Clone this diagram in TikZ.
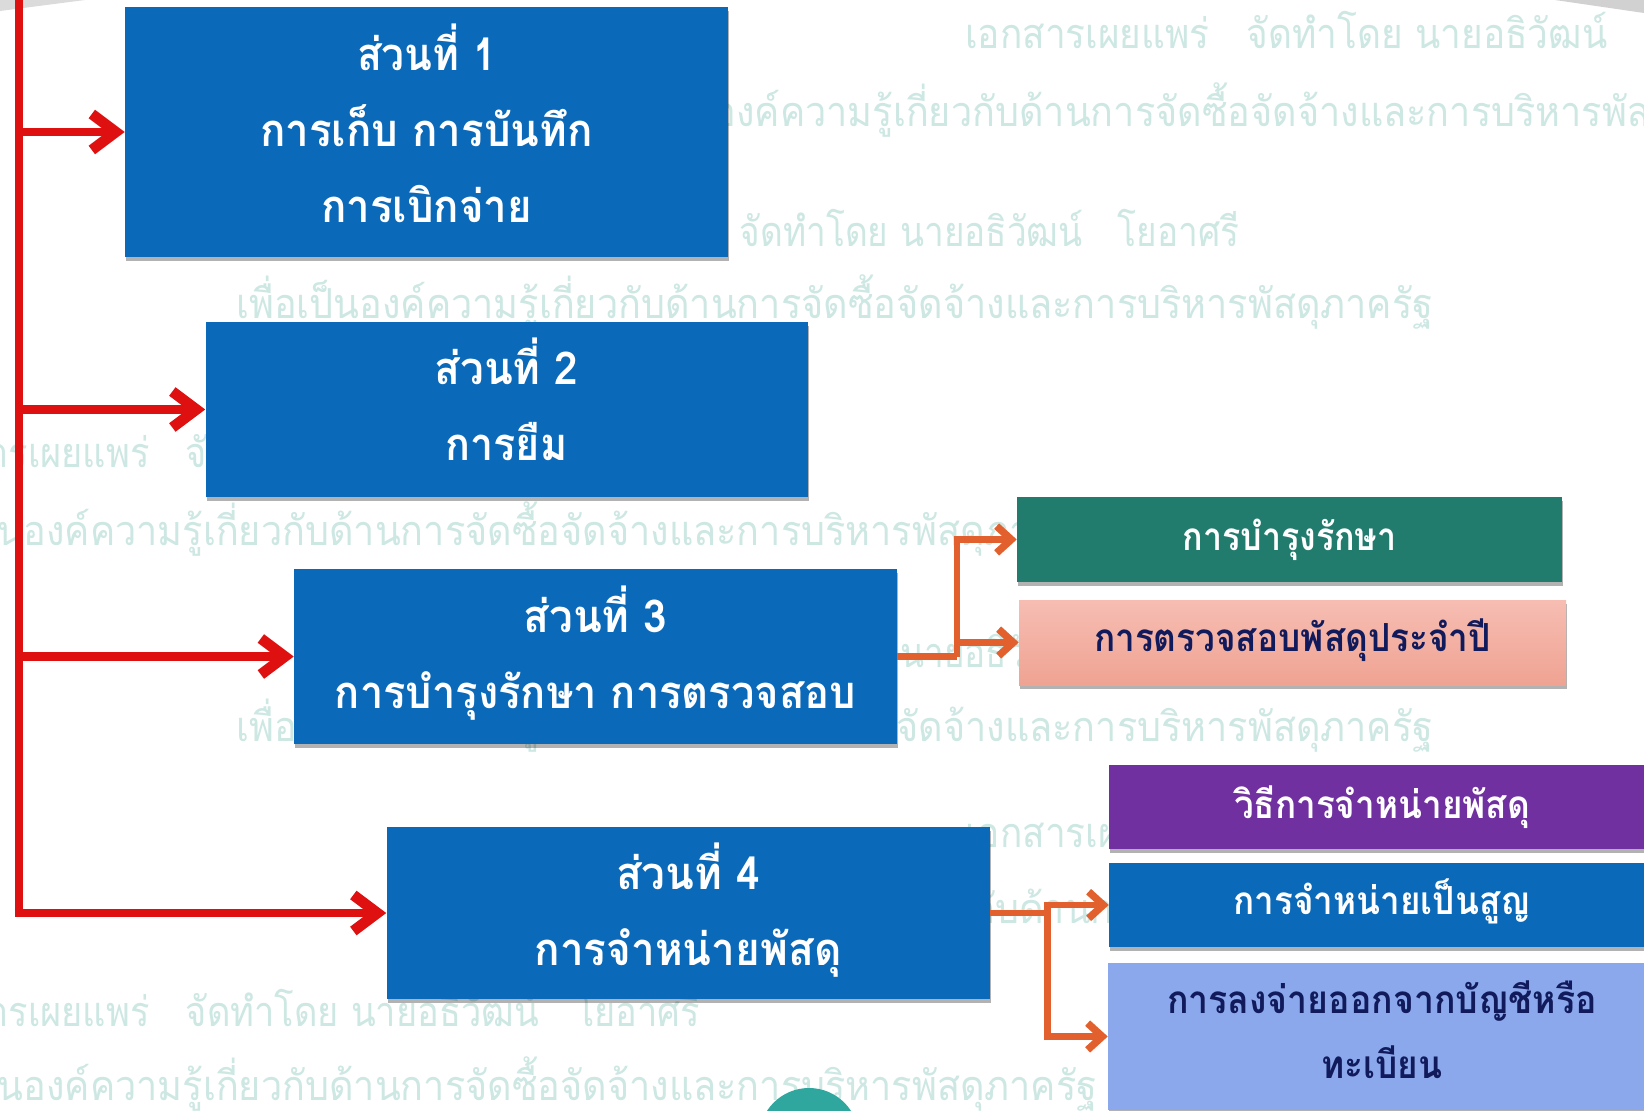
\documentclass[tikz,border=0pt]{standalone}
\usepackage{fontspec}
\usepackage{graphicx}
\usetikzlibrary{arrows.meta,shadows}
\newfontfamily\thaifont[Script=Thai]{Loma}
\newdimen\pxu \pxu=0.75pt
\newcommand\tw[2]{\resizebox{#1\pxu}{\height}{#2}}
\newcommand\boxtext[2]{\raisebox{#1\pxu}[0pt][0pt]{\begin{tabular}[t]{@{}c@{}}#2\end{tabular}}}
\newcommand\lineone{เอกสารเผยแพร่\quad จัดทำโดย นายอธิวัฒน์\quad โยอาศรี}
\newcommand\lineonecut{เอกสารเผยแพร่\quad จัดทำโดย นายอธิวัฒน์}
\newcommand\linetwo{เพื่อเป็นองค์ความรู้เกี่ยวกับด้านการจัดซื้อจัดจ้างและการบริหารพัสดุภาครัฐ}
\definecolor{bluebox}{HTML}{0A69B8}
\definecolor{tealbox}{HTML}{217C6E}
\definecolor{pinktop}{HTML}{F7BDB3}
\definecolor{pinkbot}{HTML}{EFA392}
\definecolor{purplebox}{HTML}{7030A0}
\definecolor{lavbox}{HTML}{8CA8EC}
\definecolor{navytext}{HTML}{111B5C}
\definecolor{redline}{HTML}{DE1010}
\definecolor{orangeline}{HTML}{E2602D}
\definecolor{wmark}{HTML}{CDE7E3}
\definecolor{badge}{HTML}{2FA79F}
\tikzset{
  x=0.75pt,y=-0.75pt,
  card/.style={rectangle,inner sep=0pt,
    drop shadow={shadow xshift=0.8pt,shadow yshift=-3pt,fill=black,opacity=.3}},
  mainbox/.style={card,fill=bluebox,text=white,
    font=\thaifont\bfseries\fontsize{34}{57}\selectfont},
  subbox/.style={card,font=\thaifont\bfseries\fontsize{29}{49}\selectfont},
  wm/.style={anchor=base west,inner sep=0pt,text=wmark,
    font=\thaifont\fontsize{31}{40}\selectfont},
  redarrow/.style={draw=redline,line width=6.5pt,
    -{Straight Barb[length=18pt,width=27pt,line width=8pt]}},
  redtrunk/.style={draw=redline,line width=6.5pt},
  orangeshaft/.style={draw=orangeline,line width=4.8pt},
  orangearrow/.style={orangeshaft,
    -{Straight Barb[length=11pt,width=20pt,line width=5.5pt]}},
}
\begin{document}
\begin{tikzpicture}
\useasboundingbox (0,0) rectangle (1644,1110);
\clip (0,0) rectangle (1644,1110);
\fill[white] (0,0) rectangle (1644,1110);
% top corner swooshes
\fill[black!18] (1555,0) -- (1644,0) -- (1644,13) -- cycle;
\fill[black!14] (0,0) -- (85,0) -- (0,11) -- cycle;
% watermark
\node[wm] (a1) at (965,48) {\tw{642}{\lineonecut}};
\node[wm] (a2) at (590,126) {\tw{1197}{\linetwo}};
\node[wm] (b1) at (472,246) {\tw{767}{\lineone}};
\node[wm] (b2) at (236,318) {\tw{1197}{\linetwo}};
\node[wm] (c1) at (-90,467) {\tw{790}{\lineone}};
\node[wm] (c2) at (-100,545) {\tw{1197}{\linetwo}};
\node[wm] (d1) at (472,667) {\tw{767}{\lineone}};
\node[wm] (d2) at (236,741) {\tw{1197}{\linetwo}};
\node[wm] (e1) at (965,847) {\tw{642}{\lineonecut}};
\node[wm] (e2) at (590,923) {\tw{1197}{\linetwo}};
\node[wm] (f1) at (-90,1026) {\tw{790}{\lineone}};
\node[wm] (f2) at (-100,1100) {\tw{1197}{\linetwo}};
% page badge
\fill[badge] (809,1138) circle[radius=50];
% main boxes
\node[mainbox,minimum width=603\pxu,minimum height=250\pxu] (box1) at (426.5,132)
  {\boxtext{62}{\tw{139}{ส่วนที่ 1}\\\tw{333}{การเก็บ การบันทึก}\\\tw{211}{การเบิกจ่าย}}};
\node[mainbox,minimum width=602\pxu,minimum height=175\pxu] (box2) at (506.5,409.5)
  {\boxtext{25.5}{\tw{144}{ส่วนที่ 2}\\\tw{122}{การยืม}}};
\node[mainbox,minimum width=603\pxu,minimum height=175\pxu] (box3) at (595.5,656.5)
  {\boxtext{24.5}{\tw{144}{ส่วนที่ 3}\\\tw{521}{การบำรุงรักษา การตรวจสอบ}}};
\node[mainbox,minimum width=603\pxu,minimum height=172\pxu] (box4) at (688,913)
  {\boxtext{24}{\tw{144}{ส่วนที่ 4}\\\tw{307}{การจำหน่ายพัสดุ}}};
% sub boxes
\node[subbox,fill=tealbox,text=white,minimum width=545\pxu,minimum height=85\pxu] (teal) at (1289.5,539.5)
  {\boxtext{-10.5}{\tw{214}{การบำรุงรักษา}}};
\node[subbox,top color=pinktop,bottom color=pinkbot,text=navytext,minimum width=547\pxu,minimum height=85\pxu] (pink) at (1292.5,642.5)
  {\boxtext{-8.5}{\tw{397}{การตรวจสอบพัสดุประจำปี}}};
\node[subbox,fill=purplebox,text=white,minimum width=546\pxu,minimum height=84\pxu] (purple) at (1382,807)
  {\boxtext{-11}{\tw{296}{วิธีการจำหน่ายพัสดุ}}};
\node[subbox,fill=bluebox,text=white,minimum width=546\pxu,minimum height=84\pxu] (blue) at (1382,905)
  {\boxtext{-9}{\tw{297}{การจำหน่ายเป็นสูญ}}};
\node[subbox,fill=lavbox,text=navytext,minimum width=548\pxu,minimum height=147\pxu] (lav) at (1382,1036.5)
  {\boxtext{23.5}{\tw{430}{การลงจ่ายออกจากบัญชีหรือ}\\[-0.25pt]\tw{121}{ทะเบียน}}};
% red connectors
\coordinate (rtop) at (19,-5);
\draw[redtrunk] (rtop) -- ([yshift=-3.25pt]rtop |- box4.west);
\draw[redarrow] (rtop |- box1.west) -- (box1.west);
\draw[redarrow] (rtop |- box2.west) -- (box2.west);
\draw[redarrow] (rtop |- box3.west) -- (box3.west);
\draw[redarrow] ([xshift=-3.25pt]rtop |- box4.west) -- (box4.west);
% orange connectors
\coordinate (otop) at (957,0);
\coordinate (obot) at (1047.5,0);
\draw[orangeshaft] (box3.east) -- (otop |- box3.east);
\draw[orangearrow] (otop |- box3.east) |- (teal.west);
\draw[orangearrow] (otop |- box3.east) |- (pink.west);
\draw[orangeshaft] (box4.east) -- (obot |- box4.east);
\draw[orangearrow] (obot |- box4.east) |- (blue.west);
\draw[orangearrow] (obot |- box4.east) |- (lav.west);
\end{tikzpicture}
\end{document}
